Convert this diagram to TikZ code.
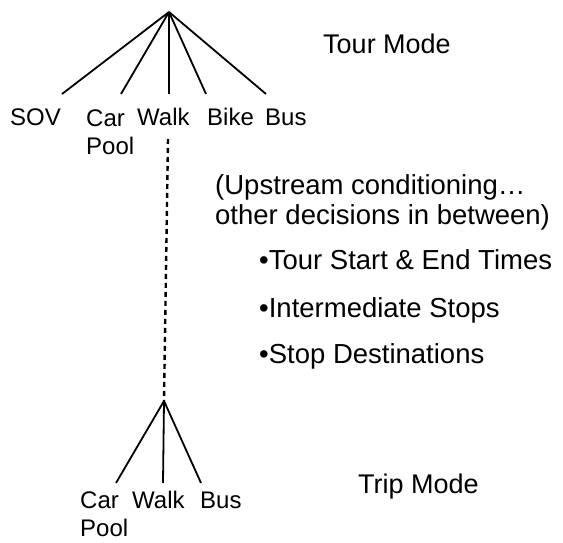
\documentclass[tikz,border=0pt]{standalone}
\usepackage{fontspec}
\setmainfont{Liberation Sans}

\tikzstyle{mode_style}=[x=1pt,y=-1pt,
  branch/.style={line width=1.8pt,line join=round},
  link/.style={dashed,dash pattern=on 5pt off 4pt,line width=2.4pt},
  alt/.style={anchor=base west,inner sep=0pt,align=left,font=\fontsize{24}{28}\selectfont},
  level/.style={anchor=base west,inner sep=0pt,font=\fontsize{27}{31}\selectfont},
  note/.style={anchor=base west,inner sep=0pt,align=left,font=\fontsize{27.5}{30}\selectfont},]

\begin{document}
\begin{tikzpicture}[mode_style]

    \useasboundingbox (0,0) rectangle (563,543);

    % Tour mode choice
    \coordinate (tour) at (169,12);
    \foreach \name / \x in {sov/62, car/121, walk/169, bike/206, bus/266} {
        \coordinate (T-\name) at (\x,94);
        \draw[branch] (tour) -- (T-\name);
    }

    % (a two-line label sits on the baseline of its last line)
    \foreach \name / \x / \y / \txt in {sov/10/126/SOV, car/86/154/{Car\\Pool}, walk/137/126/Walk, bike/207/126/Bike, bus/265/126/Bus}
        \node[alt] (TL-\name) at (\x,\y) {\txt};

    \node[level] (tourmode) at (323,54) {Tour Mode};

    % Trip mode choice
    \coordinate (trip) at (164,401);
    \foreach \name / \x in {car/116, walk/163, bus/201} {
        \coordinate (B-\name) at (\x,483);
        \draw[branch] (trip) -- (B-\name);
    }

    \foreach \name / \x / \y / \txt in {car/80/536/{Car\\Pool}, walk/132/508/Walk, bus/200/508/Bus}
        \node[alt] (BL-\name) at (\x,\y) {\txt};

    \node[level] (tripmode) at (358,493) {Trip Mode};

    % Dashed link between the two levels
    \coordinate (down) at (168,139);
    \draw[link] (down) -- (trip);

    % Decisions in between
    \node[note] (upstream) at (215,224) {(Upstream conditioning\dots\\other decisions in between)};
    \foreach \name / \y / \txt in {times/269/{Tour Start \& End Times}, stops/317/{Intermediate Stops}, dest/363/{Stop Destinations}}
        \node[note] (D-\name) at (259,\y) {•\txt};

\end{tikzpicture}
\end{document}
